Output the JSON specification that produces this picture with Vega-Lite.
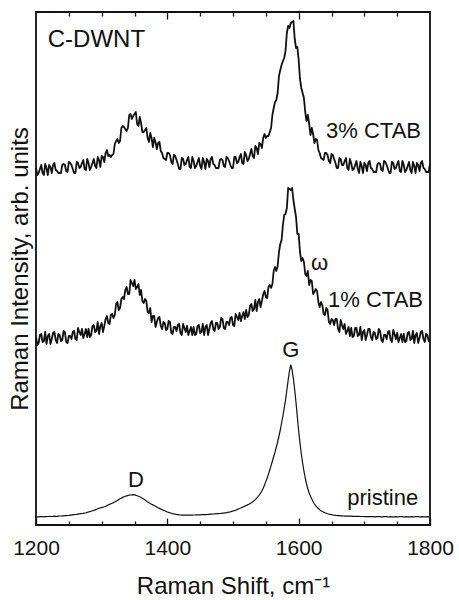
{
  "$schema": "https://vega.github.io/schema/vega-lite/v6.json",
  "width": 394,
  "height": 513,
  "autosize": {"type": "none"},
  "padding": {"left": 36, "top": 12, "right": 29, "bottom": 75},
  "config": {"font": "Liberation Sans", "view": {"stroke": "#111", "strokeWidth": 1.8}},
  "data": {"values": [
    {"x":1200,"p":8.3,"a":188,"b":357},{"x":1204,"p":8.1,"a":182,"b":352},{"x":1208,"p":8.5,"a":191,"b":360},{"x":1212,"p":8.2,"a":184,"b":350},
    {"x":1216,"p":8.4,"a":181,"b":357},{"x":1220,"p":8.6,"a":191,"b":360},{"x":1224,"p":8.5,"a":186,"b":352},{"x":1228,"p":8.8,"a":193,"b":362},
    {"x":1232,"p":8.7,"a":182,"b":354},{"x":1236,"p":9.0,"a":190,"b":352},{"x":1240,"p":9.1,"a":185,"b":360},{"x":1244,"p":9.4,"a":193,"b":360},
    {"x":1248,"p":9.5,"a":182,"b":353},{"x":1252,"p":9.8,"a":189,"b":362},{"x":1256,"p":10.1,"a":193,"b":356},{"x":1260,"p":10.5,"a":186,"b":352},
    {"x":1264,"p":10.9,"a":197,"b":362},{"x":1268,"p":11.3,"a":190,"b":358},{"x":1272,"p":11.7,"a":187,"b":365},{"x":1276,"p":12.2,"a":196,"b":355},
    {"x":1280,"p":13.0,"a":196,"b":362},{"x":1284,"p":13.8,"a":190,"b":358},{"x":1288,"p":14.6,"a":200,"b":366},{"x":1292,"p":15.7,"a":194,"b":357},
    {"x":1296,"p":16.7,"a":191,"b":365},{"x":1300,"p":17.5,"a":202,"b":369},{"x":1304,"p":18.3,"a":199,"b":363},{"x":1308,"p":19.4,"a":209,"b":375},
    {"x":1312,"p":20.6,"a":201,"b":370},{"x":1316,"p":21.8,"a":211,"b":370},{"x":1320,"p":23.0,"a":210,"b":381},{"x":1324,"p":24.6,"a":223,"b":386},
    {"x":1328,"p":26.2,"a":217,"b":384},{"x":1332,"p":27.6,"a":228,"b":399},{"x":1336,"p":28.7,"a":235,"b":396},{"x":1340,"p":29.5,"a":231,"b":397},
    {"x":1344,"p":30.0,"a":245,"b":411},{"x":1348,"p":30.3,"a":239,"b":409},{"x":1352,"p":29.8,"a":236,"b":413},{"x":1356,"p":28.8,"a":241,"b":399},
    {"x":1360,"p":27.5,"a":235,"b":402},{"x":1364,"p":25.9,"a":222,"b":393},{"x":1368,"p":24.0,"a":224,"b":397},{"x":1372,"p":22.2,"a":212,"b":383},
    {"x":1376,"p":20.7,"a":203,"b":387},{"x":1380,"p":19.5,"a":209,"b":387},{"x":1384,"p":17.9,"a":203,"b":376},{"x":1388,"p":16.6,"a":208,"b":383},
    {"x":1392,"p":15.4,"a":196,"b":372},{"x":1396,"p":14.2,"a":202,"b":366},{"x":1400,"p":13.0,"a":196,"b":372},{"x":1404,"p":12.2,"a":203,"b":370},
    {"x":1408,"p":11.4,"a":191,"b":361},{"x":1412,"p":10.8,"a":198,"b":369},{"x":1416,"p":10.4,"a":200,"b":361},{"x":1420,"p":10.0,"a":192,"b":356},
    {"x":1424,"p":9.9,"a":201,"b":366},{"x":1428,"p":9.8,"a":193,"b":361},{"x":1432,"p":9.8,"a":190,"b":368},{"x":1436,"p":9.9,"a":198,"b":357},
    {"x":1440,"p":10.0,"a":198,"b":364},{"x":1444,"p":10.1,"a":191,"b":359},{"x":1448,"p":10.2,"a":200,"b":367},{"x":1452,"p":10.3,"a":193,"b":356},
    {"x":1456,"p":10.4,"a":190,"b":363},{"x":1460,"p":10.5,"a":200,"b":366},{"x":1464,"p":10.7,"a":196,"b":358},{"x":1468,"p":10.9,"a":204,"b":368},
    {"x":1472,"p":11.1,"a":194,"b":360},{"x":1476,"p":11.3,"a":202,"b":357},{"x":1480,"p":11.5,"a":198,"b":365},{"x":1484,"p":11.8,"a":206,"b":365},
    {"x":1488,"p":12.1,"a":196,"b":358},{"x":1492,"p":12.6,"a":203,"b":367},{"x":1496,"p":13.2,"a":207,"b":360},{"x":1500,"p":14.0,"a":200,"b":357},
    {"x":1504,"p":14.8,"a":211,"b":368},{"x":1508,"p":16.0,"a":205,"b":363},{"x":1512,"p":17.0,"a":204,"b":371},{"x":1516,"p":18.3,"a":213,"b":361},
    {"x":1520,"p":19.5,"a":215,"b":370},{"x":1524,"p":20.7,"a":210,"b":366},{"x":1528,"p":22.2,"a":221,"b":376},{"x":1532,"p":24.2,"a":216,"b":367},
    {"x":1536,"p":26.8,"a":214,"b":377},{"x":1540,"p":30.0,"a":226,"b":382},{"x":1544,"p":34.0,"a":224,"b":377},{"x":1548,"p":40.0,"a":234,"b":391},
    {"x":1552,"p":47.0,"a":227,"b":389},{"x":1556,"p":55.0,"a":240,"b":393},{"x":1560,"p":64.0,"a":241,"b":410},{"x":1564,"p":73.0,"a":258,"b":423},
    {"x":1568,"p":83.0,"a":259,"b":432},{"x":1572,"p":95.0,"a":281,"b":455},{"x":1576,"p":109,"a":300,"b":464},{"x":1580,"p":125,"a":311,"b":474},
    {"x":1584,"p":145,"a":337,"b":499},{"x":1588,"p":160,"a":335,"b":502},{"x":1592,"p":146,"a":325,"b":504},{"x":1596,"p":122,"a":308,"b":477},
    {"x":1600,"p":94,"a":291,"b":465},{"x":1604,"p":71,"a":264,"b":437},{"x":1608,"p":54,"a":263,"b":427},{"x":1612,"p":41,"a":249,"b":404},
    {"x":1616,"p":32,"a":240,"b":401},{"x":1620,"p":26,"a":244,"b":397},{"x":1624,"p":21,"a":233,"b":382},{"x":1628,"p":17.8,"a":234,"b":385},
    {"x":1632,"p":15.3,"a":218,"b":372},{"x":1636,"p":13.5,"a":220,"b":366},{"x":1640,"p":12.3,"a":210,"b":372},{"x":1644,"p":11.3,"a":215,"b":370},
    {"x":1648,"p":10.6,"a":201,"b":362},{"x":1652,"p":10.0,"a":205,"b":370},{"x":1656,"p":9.7,"a":206,"b":362},{"x":1660,"p":9.4,"a":196,"b":357},
    {"x":1664,"p":9.2,"a":205,"b":366},{"x":1668,"p":9.0,"a":196,"b":360},{"x":1672,"p":8.9,"a":191,"b":367},{"x":1676,"p":8.8,"a":198,"b":355},
    {"x":1680,"p":8.8,"a":197,"b":362},{"x":1684,"p":8.7,"a":189,"b":356},{"x":1688,"p":8.6,"a":197,"b":364},{"x":1692,"p":8.6,"a":190,"b":352},
    {"x":1696,"p":8.5,"a":185,"b":359},{"x":1700,"p":8.4,"a":195,"b":362},{"x":1704,"p":8.5,"a":190,"b":354},{"x":1708,"p":8.3,"a":196,"b":364},
    {"x":1712,"p":8.4,"a":185,"b":356},{"x":1716,"p":8.2,"a":192,"b":353},{"x":1720,"p":8.4,"a":187,"b":361},{"x":1724,"p":8.3,"a":194,"b":361},
    {"x":1728,"p":8.2,"a":183,"b":354},{"x":1732,"p":8.4,"a":190,"b":363},{"x":1736,"p":8.2,"a":193,"b":356},{"x":1740,"p":8.3,"a":185,"b":352},
    {"x":1744,"p":8.1,"a":195,"b":362},{"x":1748,"p":8.3,"a":186,"b":357},{"x":1752,"p":8.2,"a":183,"b":364},{"x":1756,"p":8.4,"a":191,"b":353},
    {"x":1760,"p":8.2,"a":191,"b":360},{"x":1764,"p":8.3,"a":184,"b":355},{"x":1768,"p":8.1,"a":193,"b":363},{"x":1772,"p":8.3,"a":186,"b":352},
    {"x":1776,"p":8.2,"a":182,"b":359},{"x":1780,"p":8.4,"a":192,"b":362},{"x":1784,"p":8.2,"a":187,"b":354},{"x":1788,"p":8.3,"a":194,"b":364},
    {"x":1792,"p":8.1,"a":183,"b":356},{"x":1796,"p":8.3,"a":190,"b":353},{"x":1800,"p":8.2,"a":185,"b":361},
    {"x":1202,"p":8.2,"a":180,"b":350},{"x":1206,"p":8.3,"a":190,"b":356},{"x":1210,"p":8.4,"a":183,"b":352},{"x":1214,"p":8.3,"a":193,"b":361},
    {"x":1218,"p":8.5,"a":189,"b":350},{"x":1222,"p":8.5,"a":181,"b":358},{"x":1226,"p":8.6,"a":192,"b":360},{"x":1230,"p":8.7,"a":185,"b":355},
    {"x":1234,"p":8.9,"a":191,"b":352},{"x":1238,"p":9.0,"a":184,"b":352},{"x":1242,"p":9.2,"a":194,"b":361},{"x":1246,"p":9.4,"a":183,"b":354},
    {"x":1250,"p":9.6,"a":189,"b":363},{"x":1254,"p":9.9,"a":186,"b":360},{"x":1258,"p":10.3,"a":194,"b":352},{"x":1262,"p":10.7,"a":185,"b":363},
    {"x":1266,"p":11.1,"a":193,"b":357},{"x":1270,"p":11.5,"a":196,"b":362},{"x":1274,"p":12.0,"a":191,"b":356},{"x":1278,"p":12.6,"a":188,"b":366},
    {"x":1282,"p":13.4,"a":188,"b":355},{"x":1286,"p":14.2,"a":199,"b":362},{"x":1290,"p":15.1,"a":193,"b":359},{"x":1294,"p":16.2,"a":203,"b":368},
    {"x":1298,"p":17.1,"a":199,"b":358},{"x":1302,"p":17.9,"a":193,"b":368},{"x":1306,"p":18.8,"a":206,"b":372},{"x":1310,"p":20.0,"a":202,"b":369},
    {"x":1314,"p":21.2,"a":210,"b":368},{"x":1318,"p":22.4,"a":207,"b":371},{"x":1322,"p":23.8,"a":221,"b":384},{"x":1326,"p":25.4,"a":215,"b":382},
    {"x":1330,"p":26.9,"a":226,"b":397},{"x":1334,"p":28.2,"a":226,"b":398},{"x":1338,"p":29.1,"a":238,"b":394},{"x":1342,"p":29.8,"a":231,"b":410},
    {"x":1346,"p":30.2,"a":242,"b":406},{"x":1350,"p":30.1,"a":245,"b":411},{"x":1354,"p":29.3,"a":238,"b":401},{"x":1358,"p":28.2,"a":230,"b":408},
    {"x":1362,"p":26.7,"a":224,"b":393},{"x":1366,"p":25.0,"a":226,"b":395},{"x":1370,"p":23.1,"a":213,"b":387},{"x":1374,"p":21.4,"a":217,"b":392},
    {"x":1378,"p":20.1,"a":209,"b":378},{"x":1382,"p":18.7,"a":198,"b":383},{"x":1386,"p":17.2,"a":207,"b":382},{"x":1390,"p":16.0,"a":199,"b":374},
    {"x":1394,"p":14.8,"a":203,"b":367},{"x":1398,"p":13.6,"a":195,"b":365},{"x":1402,"p":12.6,"a":204,"b":372},{"x":1406,"p":11.8,"a":192,"b":363},
    {"x":1410,"p":11.1,"a":198,"b":370},{"x":1414,"p":10.6,"a":194,"b":365},{"x":1418,"p":10.2,"a":201,"b":356},{"x":1422,"p":9.9,"a":190,"b":367},
    {"x":1426,"p":9.8,"a":197,"b":360},{"x":1430,"p":9.8,"a":199,"b":365},{"x":1434,"p":9.8,"a":194,"b":358},{"x":1438,"p":9.9,"a":190,"b":368},
    {"x":1442,"p":10.0,"a":190,"b":357},{"x":1446,"p":10.1,"a":199,"b":363},{"x":1450,"p":10.2,"a":192,"b":359},{"x":1454,"p":10.3,"a":201,"b":367},
    {"x":1458,"p":10.4,"a":198,"b":356},{"x":1462,"p":10.6,"a":190,"b":364},{"x":1466,"p":10.8,"a":202,"b":366},{"x":1470,"p":11.0,"a":196,"b":361},
    {"x":1474,"p":11.2,"a":202,"b":357},{"x":1478,"p":11.4,"a":196,"b":357},{"x":1482,"p":11.6,"a":207,"b":366},{"x":1486,"p":11.9,"a":197,"b":359},
    {"x":1490,"p":12.3,"a":203,"b":368},{"x":1494,"p":12.9,"a":200,"b":364},{"x":1498,"p":13.6,"a":208,"b":357},{"x":1502,"p":14.4,"a":199,"b":368},
    {"x":1506,"p":15.4,"a":208,"b":362},{"x":1510,"p":16.5,"a":212,"b":368},{"x":1514,"p":17.6,"a":209,"b":362},{"x":1518,"p":18.9,"a":206,"b":373},
    {"x":1522,"p":20.1,"a":208,"b":364},{"x":1526,"p":21.4,"a":219,"b":371},{"x":1530,"p":23.2,"a":214,"b":369},{"x":1534,"p":25.4,"a":225,"b":379},
    {"x":1538,"p":28.3,"a":223,"b":371},{"x":1542,"p":31.9,"a":218,"b":381},{"x":1546,"p":36.8,"a":231,"b":387},{"x":1550,"p":43.4,"a":228,"b":387},
    {"x":1554,"p":50.9,"a":238,"b":389},{"x":1558,"p":59.4,"a":237,"b":397},{"x":1562,"p":68.5,"a":254,"b":417},{"x":1566,"p":78,"a":254,"b":425},
    {"x":1570,"p":89,"a":273,"b":449},{"x":1574,"p":102,"a":285,"b":460},{"x":1578,"p":117,"a":310,"b":467},{"x":1582,"p":135,"a":317,"b":492},
    {"x":1586,"p":154,"a":336,"b":497},{"x":1590,"p":155,"a":337,"b":503},{"x":1594,"p":135,"a":316,"b":486},{"x":1598,"p":108,"a":291,"b":478},
    {"x":1602,"p":82,"a":273,"b":446},{"x":1606,"p":62,"a":267,"b":432},{"x":1610,"p":47,"a":251,"b":413},{"x":1614,"p":36,"a":254,"b":410},
    {"x":1618,"p":28.8,"a":245,"b":390},{"x":1622,"p":23.3,"a":231,"b":391},{"x":1626,"p":19.3,"a":236,"b":386},{"x":1630,"p":16.5,"a":223,"b":375},
    {"x":1634,"p":14.3,"a":223,"b":367},{"x":1638,"p":12.9,"a":211,"b":365},{"x":1642,"p":11.8,"a":217,"b":372},{"x":1646,"p":10.9,"a":203,"b":364},
    {"x":1650,"p":10.3,"a":206,"b":371},{"x":1654,"p":9.8,"a":200,"b":366},{"x":1658,"p":9.5,"a":206,"b":357},{"x":1662,"p":9.3,"a":193,"b":367},
    {"x":1666,"p":9.1,"a":200,"b":360},{"x":1670,"p":8.9,"a":201,"b":364},{"x":1674,"p":8.8,"a":194,"b":357},{"x":1678,"p":8.8,"a":189,"b":366},
    {"x":1682,"p":8.7,"a":188,"b":355},{"x":1686,"p":8.6,"a":197,"b":360},{"x":1690,"p":8.6,"a":189,"b":356},{"x":1694,"p":8.5,"a":198,"b":363},
    {"x":1698,"p":8.5,"a":193,"b":352},{"x":1702,"p":8.4,"a":185,"b":360},{"x":1706,"p":8.4,"a":196,"b":362},{"x":1710,"p":8.3,"a":188,"b":357},
    {"x":1714,"p":8.3,"a":193,"b":353},{"x":1718,"p":8.3,"a":186,"b":353},{"x":1722,"p":8.3,"a":196,"b":362},{"x":1726,"p":8.2,"a":185,"b":355},
    {"x":1730,"p":8.3,"a":190,"b":364},{"x":1734,"p":8.3,"a":186,"b":360},{"x":1738,"p":8.2,"a":194,"b":352},{"x":1742,"p":8.2,"a":183,"b":363},
    {"x":1746,"p":8.2,"a":191,"b":356},{"x":1750,"p":8.2,"a":192,"b":361},{"x":1754,"p":8.3,"a":187,"b":354},{"x":1758,"p":8.3,"a":183,"b":364},
    {"x":1762,"p":8.2,"a":183,"b":353},{"x":1766,"p":8.2,"a":192,"b":359},{"x":1770,"p":8.2,"a":185,"b":355},{"x":1774,"p":8.2,"a":194,"b":363},
    {"x":1778,"p":8.3,"a":190,"b":352},{"x":1782,"p":8.3,"a":182,"b":360},{"x":1786,"p":8.2,"a":193,"b":362},{"x":1790,"p":8.2,"a":186,"b":357},
    {"x":1794,"p":8.2,"a":191,"b":353},{"x":1798,"p":8.2,"a":184,"b":353}
  ]},
  "encoding": {
    "y": {
      "field": "value", "type": "quantitative",
      "scale": {"domain": [0, 513], "nice": false, "zero": false},
      "axis": {
        "orient": "left", "ticks": false, "labels": false, "domain": false, "grid": false,
        "title": "Raman Intensity, arb. units", "titleFontSize": 24, "titleFontWeight": "normal",
        "titleColor": "#111", "titleAngle": -90, "titleX": -9, "titleY": 256.5,
        "titleBaseline": "alphabetic", "titleAlign": "center"
      }
    }
  },
  "layer": [
    {
      "transform": [{"fold": ["p", "a", "b"], "as": ["key", "value"]}],
      "mark": {"type": "line", "color": "#111", "strokeJoin": "round"},
      "encoding": {
        "x": {
          "field": "x", "type": "quantitative",
          "scale": {"domain": [1200, 1800], "nice": false, "zero": false},
          "axis": {
            "orient": "bottom", "values": [1200, 1400, 1600, 1800], "format": "d",
            "tickSize": -7, "tickWidth": 1.3, "tickColor": "#111", "domain": false, "grid": false,
            "labelFontSize": 21, "labelColor": "#111", "labelPadding": 36, "labelBaseline": "alphabetic",
            "labelFlush": false, "labelOverlap": false,
            "title": "Raman Shift, cm⁻¹", "titleFontSize": 24, "titleFontWeight": "normal",
            "titleColor": "#111", "titleBaseline": "alphabetic", "titleY": 68
          }
        },
        "detail": {"field": "key"},
        "strokeWidth": {"condition": {"test": "datum.key === 'p'", "value": 1.2}, "value": 1.8}
      }
    },
    {
      "data": {"values": [
        {"label": "C-DWNT", "x": 1292, "value": 478},
        {"label": "3% CTAB", "x": 1714, "value": 387},
        {"label": "ω", "x": 1632, "value": 255},
        {"label": "1% CTAB", "x": 1717, "value": 218},
        {"label": "G", "x": 1588, "value": 168},
        {"label": "D", "x": 1352, "value": 38},
        {"label": "pristine", "x": 1728, "value": 20}
      ]},
      "mark": {"type": "text", "align": "center", "baseline": "alphabetic", "color": "#111"},
      "encoding": {
        "x": {
          "field": "x", "type": "quantitative",
          "scale": {"domain": [1200, 1800], "nice": false, "zero": false},
          "axis": {"orient": "top", "values": [1400, 1600], "tickSize": -7, "tickWidth": 1.3, "tickColor": "#111",
                   "labels": false, "domain": false, "grid": false, "title": null}
        },
        "text": {"field": "label"},
        "size": {"condition": {"test": "datum.label === 'C-DWNT'", "value": 24}, "value": 22}
      }
    },
    {
      "transform": [{"fold": ["p", "a", "b"], "as": ["key", "value"]}],
      "mark": {"type": "line", "opacity": 0},
      "encoding": {
        "x": {
          "field": "x", "type": "quantitative",
          "scale": {"domain": [1200, 1800], "nice": false, "zero": false},
          "axis": {"orient": "bottom", "values": [1250, 1300, 1350, 1450, 1500, 1550, 1650, 1700, 1750],
                   "tickSize": -4, "tickWidth": 1.3, "tickColor": "#111",
                   "labels": false, "domain": false, "grid": false, "title": null}
        },
        "detail": {"field": "key"}
      }
    },
    {
      "transform": [{"fold": ["p", "a", "b"], "as": ["key", "value"]}],
      "mark": {"type": "line", "opacity": 0},
      "encoding": {
        "x": {
          "field": "x", "type": "quantitative",
          "scale": {"domain": [1200, 1800], "nice": false, "zero": false},
          "axis": {"orient": "top", "values": [1250, 1300, 1350, 1450, 1500, 1550, 1650, 1700, 1750],
                   "tickSize": -4, "tickWidth": 1.3, "tickColor": "#111",
                   "labels": false, "domain": false, "grid": false, "title": null}
        },
        "detail": {"field": "key"}
      }
    }
  ],
  "resolve": {"axis": {"x": "independent"}}
}
